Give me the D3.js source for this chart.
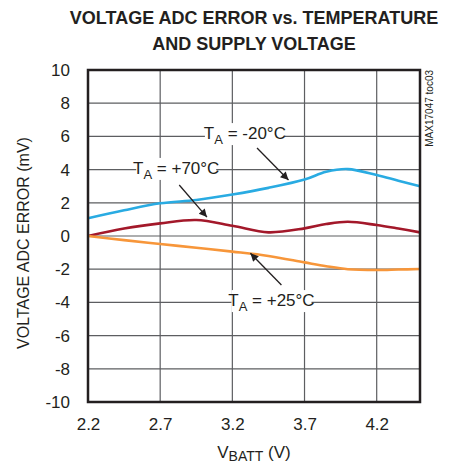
<!DOCTYPE html>
<html>
<head>
<meta charset="utf-8">
<script src="https://cdn.jsdelivr.net/npm/d3@7"></script>
<style>
  body { margin: 0; background: #fff; }
  text { font-family: "Liberation Sans", Arial, sans-serif; }
</style>
</head>
<body>
<script>
// series, x = VBATT (V), y = error (mV)
const vbatt = [2.2, 2.45, 2.7, 2.95, 3.2, 3.45, 3.7, 3.85, 4.0, 4.2, 4.35, 4.5];
const errMinus20 = [1.07, 1.55, 1.97, 2.17, 2.5, 2.9, 3.4, 3.87, 4.03, 3.67, 3.33, 3.0];
const errPlus70 = [0.0, 0.45, 0.76, 0.96, 0.62, 0.22, 0.46, 0.72, 0.86, 0.66, 0.45, 0.22];
const errPlus25 = [0.0, -0.25, -0.48, -0.71, -0.94, -1.2, -1.59, -1.82, -2.0, -2.05, -2.02, -1.99];

const xTicks = [2.2, 2.7, 3.2, 3.7, 4.2];
const yTicks = [-10, -8, -6, -4, -2, 0, 2, 4, 6, 8, 10];
const titleLines = ["VOLTAGE ADC ERROR vs. TEMPERATURE", "AND SUPPLY VOLTAGE"];

const series = [
  { name: "-20", values: errMinus20, color: "#29abe2" },
  { name: "+70", values: errPlus70, color: "#a3182a" },
  { name: "+25", values: errPlus25, color: "#f7963a" }
];

// labels with arrows, in data units
const notes = [
  { text: "-20°C", lx: 3.287, ly: 6.2, from: [3.371, 5.3], to: [3.589, 3.37] },
  { text: "+70°C", lx: 2.811, ly: 4.1, from: [2.832, 3.07], to: [3.024, 1.14] },
  { text: "+25°C", lx: 3.471, ly: -3.86, from: [3.54, -2.95], to: [3.325, -1.04] }
];

const width = 453, height = 466;
const margin = { top: 70, right: 33, bottom: 64, left: 88 };

const svg = d3.select("body").append("svg")
  .attr("width", width)
  .attr("height", height);

const x = d3.scaleLinear().domain([2.2, 4.5]).range([margin.left, width - margin.right]);
const y = d3.scaleLinear().domain([-10, 10]).range([height - margin.bottom, margin.top]);

// title
svg.append("g").selectAll("text")
  .data(titleLines)
  .enter().append("text")
  .attr("x", 254)
  .attr("y", (d, i) => 24 + i * 26)
  .attr("text-anchor", "middle")
  .style("font-size", "18px")
  .style("font-weight", "bold")
  .style("fill", "#231f20")
  .text(d => d);

// grid
const grid = svg.append("g").style("stroke", "#5d5e61").style("stroke-width", 1.2);
grid.selectAll("line.h")
  .data(yTicks.slice(1, -1))
  .enter().append("line")
  .attr("x1", x.range()[0]).attr("x2", x.range()[1])
  .attr("y1", d => y(d)).attr("y2", d => y(d));
grid.selectAll("line.v")
  .data(xTicks.slice(1))
  .enter().append("line")
  .attr("y1", y.range()[0]).attr("y2", y.range()[1])
  .attr("x1", d => x(d)).attr("x2", d => x(d));

// axes (labels only)
const yAxis = svg.append("g")
  .attr("transform", `translate(${margin.left - 15},0)`)
  .call(d3.axisLeft(y).tickValues(yTicks).tickSize(0).tickFormat(d => String(d)));
const xAxis = svg.append("g")
  .attr("transform", `translate(0,${height - margin.bottom + 13})`)
  .call(d3.axisBottom(x).tickValues(xTicks).tickSize(0).tickFormat(d3.format(".1f")));
[xAxis, yAxis].forEach(a => {
  a.select(".domain").remove();
  a.selectAll("text")
    .style("font-family", "'Liberation Sans', Arial, sans-serif")
    .style("font-size", "17px")
    .style("fill", "#231f20");
});

// curves
const line = d3.line()
  .x((d, i) => x(vbatt[i]))
  .y(d => y(d))
  .curve(d3.curveCatmullRom.alpha(0.5));

svg.append("g").selectAll("path")
  .data(series)
  .enter().append("path")
  .attr("d", d => line(d.values))
  .style("fill", "none")
  .style("stroke", d => d.color)
  .style("stroke-width", 2.6);

// annotations
svg.append("defs").append("marker")
  .attr("id", "head")
  .attr("viewBox", "0 0 10 10")
  .attr("refX", 10).attr("refY", 5)
  .attr("markerWidth", 10).attr("markerHeight", 8)
  .attr("markerUnits", "userSpaceOnUse")
  .attr("orient", "auto")
  .append("path")
  .attr("d", "M0,0 L10,5 L0,10 Z")
  .style("fill", "#231f20");

const note = svg.append("g").selectAll("g")
  .data(notes)
  .enter().append("g");

note.append("rect")
  .attr("x", d => x(d.lx) - 40)
  .attr("y", d => y(d.ly) - 10)
  .attr("width", 80)
  .attr("height", 22)
  .style("fill", "#fff");

note.append("line")
  .attr("x1", d => x(d.from[0])).attr("y1", d => y(d.from[1]))
  .attr("x2", d => x(d.to[0])).attr("y2", d => y(d.to[1]))
  .style("stroke", "#231f20")
  .style("stroke-width", 1.3)
  .attr("marker-end", "url(#head)");

const noteText = note.append("text")
  .attr("x", d => x(d.lx))
  .attr("y", d => y(d.ly) + 6)
  .attr("text-anchor", "middle")
  .style("font-size", "17px")
  .style("fill", "#231f20");
noteText.append("tspan").text("T");
noteText.append("tspan").attr("dy", 5).style("font-size", "13px").text("A");
noteText.append("tspan").attr("dy", -5).text(d => " = " + d.text);

// frame
svg.append("rect")
  .attr("x", x.range()[0]).attr("y", y.range()[1])
  .attr("width", x.range()[1] - x.range()[0])
  .attr("height", y.range()[0] - y.range()[1])
  .style("fill", "none")
  .style("stroke", "#231f20")
  .style("stroke-width", 2.5);

// axis titles
svg.append("text")
  .attr("transform", "translate(29,243) rotate(-90)")
  .attr("text-anchor", "middle")
  .style("font-size", "16px")
  .style("fill", "#231f20")
  .text("VOLTAGE  ADC ERROR (mV)");

const xt = svg.append("text")
  .attr("x", 254)
  .attr("y", 458)
  .attr("text-anchor", "middle")
  .style("font-size", "17px")
  .style("fill", "#231f20");
xt.append("tspan").text("V");
xt.append("tspan").attr("dy", 3).style("font-size", "14px").text("BATT");
xt.append("tspan").attr("dy", -3).text(" (V)");

// watermark
svg.append("text")
  .attr("transform", "translate(433,70) rotate(-90)")
  .attr("text-anchor", "end")
  .style("font-size", "10px")
  .style("fill", "#231f20")
  .text("MAX17047 toc03");
</script>
</body>
</html>
